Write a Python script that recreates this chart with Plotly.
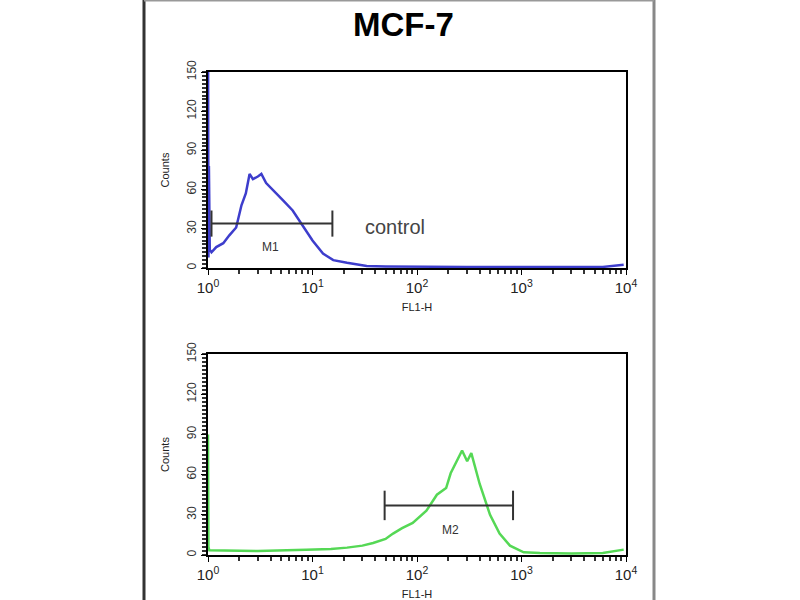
import numpy as np
import plotly.graph_objects as go

# control histogram (blue), FL1-H vs counts
ctrl_x = [1.0, 1.01, 1.02, 1.04, 1.08, 1.2, 1.4, 1.6, 1.86, 2.09, 2.3, 2.5, 2.69, 3.0, 3.24,
          3.6, 4.17, 5.2, 6.46, 8.1, 10.0, 12.6, 15.8, 21.4, 33.0, 50.0, 80.0, 150.0,
          300.0, 700.0, 1500.0, 3000.0, 6000.0, 9500.0]
ctrl_y = [200, 8, 78, 14, 12, 16, 19, 25, 31, 48, 57, 72, 68, 70, 72,
          65, 60, 52, 44, 32, 21, 11, 6, 4, 1.5, 1.2, 1.0, 1.0,
          0.8, 0.8, 0.7, 0.7, 0.8, 2.5]

# sample histogram (green)
samp_x = [1.0, 1.01, 1.03, 1.5, 3.0, 8.7, 15.0, 21.4, 30.0, 38.0, 50.0, 59.0, 72.0, 91.0,
          110.0, 123.0, 155.0, 190.0, 210.0, 240.0, 270.0, 302.0, 331.0, 398.0, 500.0,
          617.0, 776.0, 1050.0, 1500.0, 3000.0, 6000.0, 9500.0]
samp_y = [90, 6, 3.5, 3.5, 3, 4, 4.5, 5.5, 7, 9, 12, 16, 20, 24,
          30, 33, 45, 50, 61, 70, 78, 70, 76, 53, 30,
          16, 7, 2, 1.5, 1.2, 1.5, 4]

# gates
m1_x = [1.08, 15.5]
m1_y = 34
m1_cap = [24, 44]
m2_x = [49.0, 830.0]
m2_y = 37
m2_cap = [26, 48]

y_ticks = [0, 30, 60, 90, 120, 150]
y_minor = list(range(0, 151, 3))
x_ticks = [1, 10, 100, 1000, 10000]
x_minor = [m * 10 ** d for d in range(4) for m in range(2, 10)]
x_text = ["10<sup>0</sup>", "10<sup>1</sup>", "10<sup>2</sup>", "10<sup>3</sup>", "10<sup>4</sup>"]

FONT = "Liberation Sans, Arial, sans-serif"


def gate(xs, y, cap):
    gx = [xs[0], xs[0], None, xs[0], xs[1], None, xs[1], xs[1]]
    gy = [cap[0], cap[1], None, y, y, None, cap[0], cap[1]]
    return gx, gy


fig = go.Figure()

fig.add_trace(go.Scatter(x=ctrl_x, y=ctrl_y, mode="lines",
                         line=dict(color="#3d3dcc", width=2.5), xaxis="x", yaxis="y"))
g1x, g1y = gate(m1_x, m1_y, m1_cap)
fig.add_trace(go.Scatter(x=g1x, y=g1y, mode="lines",
                         line=dict(color="#333333", width=2), xaxis="x", yaxis="y"))

fig.add_trace(go.Scatter(x=samp_x, y=samp_y, mode="lines",
                         line=dict(color="#55d855", width=2.5), xaxis="x2", yaxis="y2"))
g2x, g2y = gate(m2_x, m2_y, m2_cap)
fig.add_trace(go.Scatter(x=g2x, y=g2y, mode="lines",
                         line=dict(color="#333333", width=2), xaxis="x2", yaxis="y2"))

xax = dict(type="log", range=[0, 4], tickvals=x_ticks, ticktext=x_text, automargin=False,
           showline=True, mirror=True, linecolor="black", linewidth=2,
           ticks="outside", ticklen=5, tickcolor="black", showgrid=False, zeroline=False,
           tickfont=dict(family=FONT, size=15, color="#222"),
           minor=dict(ticks="outside", ticklen=4, tickwidth=1.5, tickmode="array",
                      tickvals=x_minor, tickcolor="#333", showgrid=False),
           title=dict(text="FL1-H", font=dict(family=FONT, size=11, color="#222"), standoff=8))
yax = dict(range=[0, 150], tickvals=y_ticks, tickangle=-90, automargin=False,
           showline=True, mirror=True, linecolor="black", linewidth=2,
           ticks="outside", ticklen=5, tickcolor="black", showgrid=False, zeroline=False,
           tickfont=dict(family=FONT, size=12, color="#333"),
           minor=dict(ticks="outside", ticklen=4, tickwidth=1.5, tickmode="array",
                      tickvals=y_minor, tickcolor="#333", showgrid=False),
           title=dict(text="Counts", font=dict(family=FONT, size=11, color="#222"), standoff=13))

fig.update_layout(
    width=800, height=600, autosize=False,
    margin=dict(l=0, r=0, t=0, b=0),
    paper_bgcolor="white", plot_bgcolor="white",
    showlegend=False,
    xaxis=dict(xax, domain=[208 / 800, 626 / 800], anchor="y"),
    yaxis=dict(yax, domain=[1 - 268 / 600, 1 - 72 / 600], anchor="x"),
    xaxis2=dict(xax, domain=[208 / 800, 626 / 800], anchor="y2"),
    yaxis2=dict(yax, domain=[1 - 555 / 600, 1 - 354 / 600], anchor="x2"),
)

fig.add_annotation(text="<b>MCF-7</b>", xref="paper", yref="paper", x=403 / 800, y=1 - 24 / 600,
                   xanchor="center", yanchor="middle", showarrow=False,
                   font=dict(family=FONT, size=33, color="black"))
fig.add_annotation(text="M1", xref="x", yref="y", x=np.log10(4.0), y=16, showarrow=False,
                   font=dict(family=FONT, size=12, color="#333"))
fig.add_annotation(text="control", xref="x", yref="y", x=np.log10(62), y=31, showarrow=False,
                   font=dict(family=FONT, size=20, color="#444"))
fig.add_annotation(text="M2", xref="x2", yref="y2", x=np.log10(210), y=19, showarrow=False,
                   font=dict(family=FONT, size=12, color="#333"))

# outer panel frame
fig.add_shape(type="line", xref="paper", yref="paper", x0=144 / 800, x1=144 / 800, y0=0, y1=1,
              line=dict(color="#333", width=3))
fig.add_shape(type="line", xref="paper", yref="paper", x0=654 / 800, x1=654 / 800, y0=0, y1=1,
              line=dict(color="#888", width=3))
fig.add_shape(type="line", xref="paper", yref="paper", x0=144 / 800, x1=654 / 800, y0=0.999, y1=0.999,
              line=dict(color="#999", width=2))

fig.write_html("out.html", config={"displayModeBar": False},
               post_script="document.body.style.margin='0px';")
